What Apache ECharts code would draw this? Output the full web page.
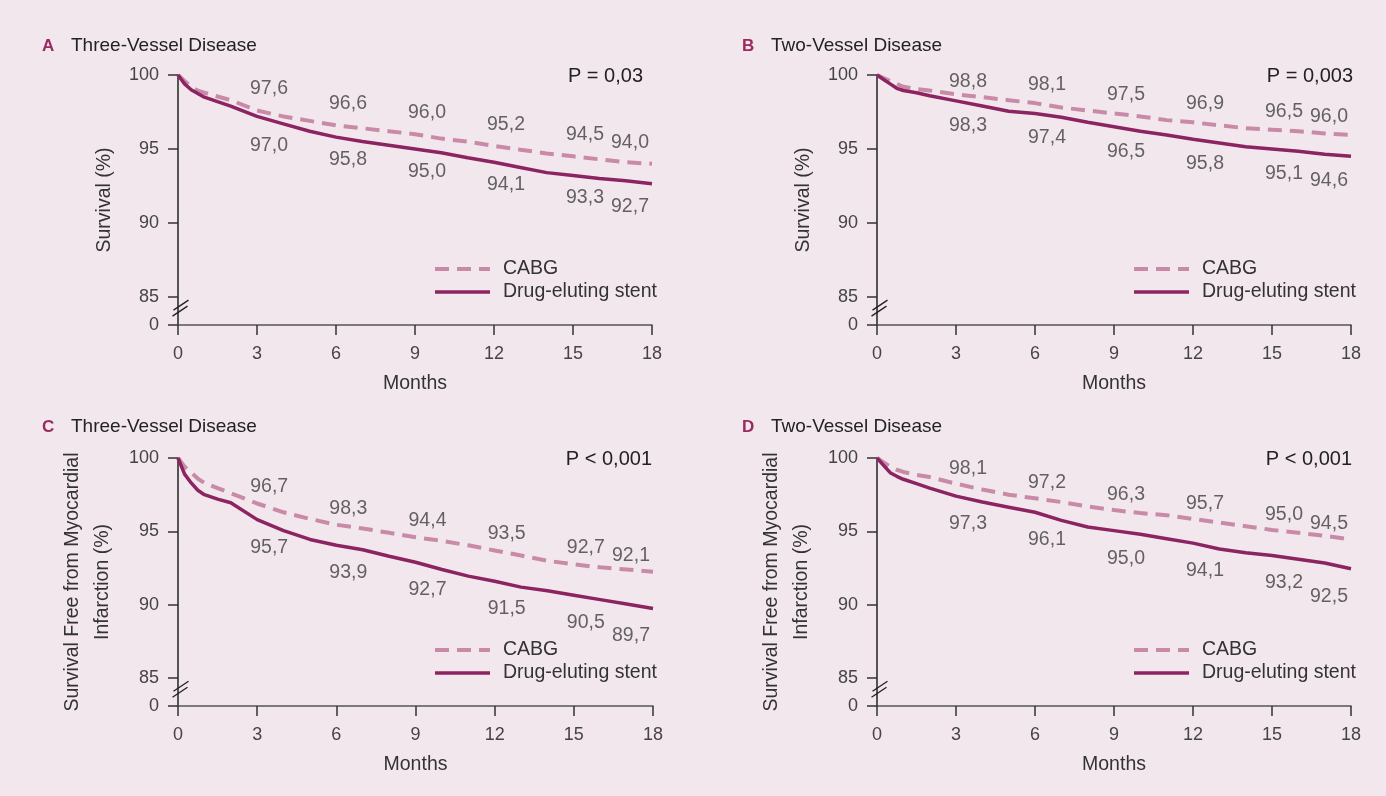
<!DOCTYPE html>
<html>
<head>
<meta charset="utf-8">
<script src="https://cdn.jsdelivr.net/npm/echarts@6/dist/echarts.min.js"></script>
<style>
html,body{margin:0;padding:0;background:#f3e7ee;}
#chart{width:1386px;height:796px;}
</style>
</head>
<body>
<div id="chart"></div>
<script>
// ---- data ----
const months = [0, 0.25, 0.5, 0.75, 1, 1.5, 2, 3, 4, 5, 6, 7, 8, 9, 10, 11, 12, 13, 14, 15, 16, 17, 18];

const cabgA = [100, 99.6, 99.2, 98.95, 98.8, 98.55, 98.3, 97.6, 97.2, 96.9, 96.6, 96.4, 96.2, 96.0, 95.7, 95.5, 95.2, 94.95, 94.7, 94.5, 94.3, 94.1, 94.0];
const desA  = [100, 99.4, 99.0, 98.75, 98.5, 98.2, 97.9, 97.2, 96.7, 96.2, 95.8, 95.5, 95.25, 95.0, 94.75, 94.4, 94.1, 93.75, 93.4, 93.2, 93.0, 92.85, 92.65];
const cabgB = [100, 99.8, 99.6, 99.4, 99.2, 99.05, 98.95, 98.7, 98.5, 98.3, 98.1, 97.8, 97.6, 97.4, 97.2, 96.95, 96.8, 96.6, 96.4, 96.3, 96.2, 96.05, 95.95];
const desB  = [100, 99.7, 99.4, 99.1, 98.95, 98.8, 98.6, 98.25, 97.9, 97.55, 97.4, 97.15, 96.8, 96.5, 96.2, 95.95, 95.65, 95.4, 95.15, 95.0, 94.85, 94.65, 94.5];
const cabgC = [100, 99.4, 99.0, 98.6, 98.3, 97.95, 97.6, 96.9, 96.3, 95.85, 95.45, 95.2, 94.9, 94.6, 94.35, 94.05, 93.7, 93.35, 93.0, 92.75, 92.55, 92.4, 92.25];
const desC  = [100, 98.9, 98.3, 97.8, 97.5, 97.2, 96.95, 95.8, 95.05, 94.45, 94.05, 93.75, 93.3, 92.9, 92.4, 91.95, 91.6, 91.2, 90.95, 90.65, 90.35, 90.05, 89.75];
const cabgD = [100, 99.7, 99.4, 99.2, 99.05, 98.85, 98.7, 98.25, 97.85, 97.5, 97.25, 97.0, 96.7, 96.45, 96.25, 96.1, 95.85, 95.6, 95.35, 95.1, 94.9, 94.7, 94.45];
const desD  = [100, 99.5, 99.0, 98.75, 98.55, 98.25, 97.95, 97.4, 97.0, 96.65, 96.3, 95.75, 95.3, 95.05, 94.8, 94.5, 94.2, 93.8, 93.55, 93.35, 93.1, 92.85, 92.45];

const labelMonths = [3, 6, 9, 12, 15, 18];
const cabgLabelsA = [97.6, 96.6, 96.0, 95.2, 94.5, 94.0];
const desLabelsA  = [97.0, 95.8, 95.0, 94.1, 93.3, 92.7];
const cabgLabelsB = [98.8, 98.1, 97.5, 96.9, 96.5, 96.0];
const desLabelsB  = [98.3, 97.4, 96.5, 95.8, 95.1, 94.6];
const cabgLabelsC = [96.7, 98.3, 94.4, 93.5, 92.7, 92.1];
const desLabelsC  = [95.7, 93.9, 92.7, 91.5, 90.5, 89.7];
const cabgLabelsD = [98.1, 97.2, 96.3, 95.7, 95.0, 94.5];
const desLabelsD  = [97.3, 96.1, 95.0, 94.1, 93.2, 92.5];

const xTicks = [0, 3, 6, 9, 12, 15, 18];
const yTicks = [85, 90, 95, 100];
const yBreakBase = 83.1;   // axis bottom, labelled "0" (broken axis)

const panelLetters = ['A', 'B', 'C', 'D'];
const panelTitles = ['Three-Vessel Disease', 'Two-Vessel Disease', 'Three-Vessel Disease', 'Two-Vessel Disease'];
const pValues = ['P = 0,03', 'P = 0,003', 'P < 0,001', 'P < 0,001'];
const yNames = ['Survival (%)', 'Survival (%)', 'Survival Free from Myocardial\nInfarction (%)', 'Survival Free from Myocardial\nInfarction (%)'];
const seriesNames = ['CABG', 'Drug-eluting stent'];

// ---- layout / style ----
const FONT = "'Liberation Sans', Arial, sans-serif";
const cabgColor = '#c98aa8';
const desColor = '#8c2461';
const cabgLine = {color: cabgColor, width: 4, type: [14, 8]};
const desLine = {color: desColor, width: 3.5, type: 'solid'};
const grids = [
  {left: 178, top: 75, width: 474, height: 250},
  {left: 877, top: 75, width: 474, height: 250},
  {left: 178, top: 458, width: 475, height: 248},
  {left: 877, top: 458, width: 474, height: 248}
];
const topLabelGap = [11, 8, 6, 5];
const bottomLabelGap = [12, 14, 17, 17];
const cabgSets = [cabgA, cabgB, cabgC, cabgD];
const desSets = [desA, desB, desC, desD];
const cabgLabelSets = [cabgLabelsA, cabgLabelsB, cabgLabelsC, cabgLabelsD];
const desLabelSets = [desLabelsA, desLabelsB, desLabelsC, desLabelsD];
const pRight = [743, 33, 734, 34];

function fmt(v) { return v.toFixed(1).replace('.', ','); }
function zip(xs, ys) { return xs.map((x, i) => [x, ys[i]]); }
function valueAt(arr, m) { return arr[months.indexOf(m)]; }

const xAxes = [], yAxes = [], series = [], legends = [], graphics = [];
grids.forEach((g, i) => {
  xAxes.push({
    type: 'value', gridIndex: i, min: 0, max: 18, interval: 3,
    name: 'Months', nameLocation: 'middle', nameGap: 49,
    nameTextStyle: {fontFamily: FONT, fontSize: 19.5, color: '#333'},
    axisLine: {show: true, onZero: false, lineStyle: {color: '#555', width: 1.5}},
    axisTick: {show: true, length: 10, lineStyle: {color: '#333', width: 1.5}},
    axisLabel: {fontFamily: FONT, fontSize: 18, color: '#444', margin: 20},
    splitLine: {show: false}
  });
  const yVals = [yBreakBase].concat(yTicks);
  yAxes.push({
    type: 'value', gridIndex: i, min: yBreakBase, max: 100,
    name: yNames[i], nameLocation: 'middle', nameGap: i < 2 ? 58 : 60,
    nameTextStyle: {fontFamily: FONT, fontSize: 19.5, color: '#333', lineHeight: 30},
    axisLine: {show: true, onZero: false, lineStyle: {color: '#222', width: 1.5}},
    axisTick: {show: true, length: 10, customValues: yVals, lineStyle: {color: '#333', width: 1.5}},
    axisLabel: {fontFamily: FONT, fontSize: 18, color: '#444', margin: 19, customValues: yVals,
      formatter: v => (v < yTicks[0] - 0.5 ? '0' : String(Math.round(v)))},
    splitLine: {show: false}
  });

  series.push({
    type: 'line', name: seriesNames[0], xAxisIndex: i, yAxisIndex: i,
    data: zip(months, cabgSets[i]), symbol: 'none', showSymbol: false, silent: true, z: 3,
    itemStyle: {color: cabgColor}, lineStyle: cabgLine
  });
  series.push({
    type: 'line', name: seriesNames[1], xAxisIndex: i, yAxisIndex: i,
    data: zip(months, desSets[i]), symbol: 'none', showSymbol: false, silent: true, z: 4,
    itemStyle: {color: desColor}, lineStyle: desLine
  });

  const mkLabels = (labels, curve, firstDy) => labels.map((v, k) => {
    const m = labelMonths[k];
    const item = {value: [m, valueAt(curve, m)], text: fmt(v)};
    if (k === labels.length - 1) item.label = {offset: [-22, 0]};
    if (k === 0 && firstDy) item.label = {offset: [12, firstDy]};
    return item;
  });
  const lblStyle = (pos) => ({
    show: true, position: pos, distance: pos === 'top' ? topLabelGap[i] : bottomLabelGap[i], offset: [12, 0],
    fontFamily: FONT, fontSize: 19.5, color: '#3e3e3e',
    formatter: p => p.data.text
  });
  series.push({
    type: 'scatter', xAxisIndex: i, yAxisIndex: i, silent: true, symbolSize: 1,
    itemStyle: {color: 'rgba(0,0,0,0)'}, label: lblStyle('top'), z: 5,
    data: mkLabels(cabgLabelSets[i], cabgSets[i], i === 1 ? 6 : 0)
  });
  series.push({
    type: 'scatter', xAxisIndex: i, yAxisIndex: i, silent: true, symbolSize: 1,
    itemStyle: {color: 'rgba(0,0,0,0)'}, label: lblStyle('bottom'), z: 5,
    data: mkLabels(desLabelSets[i], desSets[i], i === 0 ? 7 : 0)
  });
  // axis break marker
  series.push({
    type: 'custom', xAxisIndex: i, yAxisIndex: i, silent: true, clip: false, z: 10,
    data: [[0, yBreakBase]],
    renderItem: (params, api) => {
      const p85 = api.coord([0, yTicks[0]]);
      const p0 = api.coord([0, yBreakBase]);
      const cx = p85[0] + 1.5;
      const cy = p85[1] + (p0[1] - p85[1]) * 0.4;
      const st = {stroke: '#222', lineWidth: 1.4};
      return {type: 'group', children: [
        {type: 'line', shape: {x1: cx - 7, y1: cy + 8, x2: cx + 8, y2: cy - 2}, style: st},
        {type: 'line', shape: {x1: cx - 6, y1: cy + 2, x2: cx + 9, y2: cy - 8}, style: st}
      ]};
    }
  });

  legends.push({
    data: [
      {name: seriesNames[0], itemStyle: {color: 'rgba(0,0,0,0)', borderWidth: 0}, lineStyle: cabgLine},
      {name: seriesNames[1], itemStyle: {color: 'rgba(0,0,0,0)', borderWidth: 0}, lineStyle: desLine}
    ],
    orient: 'vertical', selectedMode: false,
    left: g.left + 255, top: g.top + g.height - 66, padding: 0,
    itemWidth: 55, itemHeight: 14, itemGap: 3,
    textStyle: {fontFamily: FONT, fontSize: 19.5, color: '#333', padding: [0, 0, 0, 8]}
  });

  const tx = i % 2 === 0 ? 42 : 742;
  const ty = i < 2 ? 37.5 : 418.5;
  graphics.push({type: 'text', left: tx, top: ty, silent: true,
    style: {text: panelLetters[i], font: 'bold 17px ' + FONT, fill: '#9a2a60'}});
  graphics.push({type: 'text', left: tx + 29, top: ty - 1, silent: true,
    style: {text: panelTitles[i], font: '19px ' + FONT, fill: '#222'}});
  graphics.push({type: 'text', right: pRight[i], top: g.top - 9, silent: true,
    style: {text: pValues[i], font: '20px ' + FONT, fill: '#222'}});
});

const chart = echarts.init(document.getElementById('chart'), null, {renderer: 'canvas'});
chart.setOption({
  backgroundColor: '#f3e7ee',
  animation: false,
  grid: grids,
  xAxis: xAxes,
  yAxis: yAxes,
  legend: legends,
  graphic: graphics,
  series: series
});
</script>
</body>
</html>
